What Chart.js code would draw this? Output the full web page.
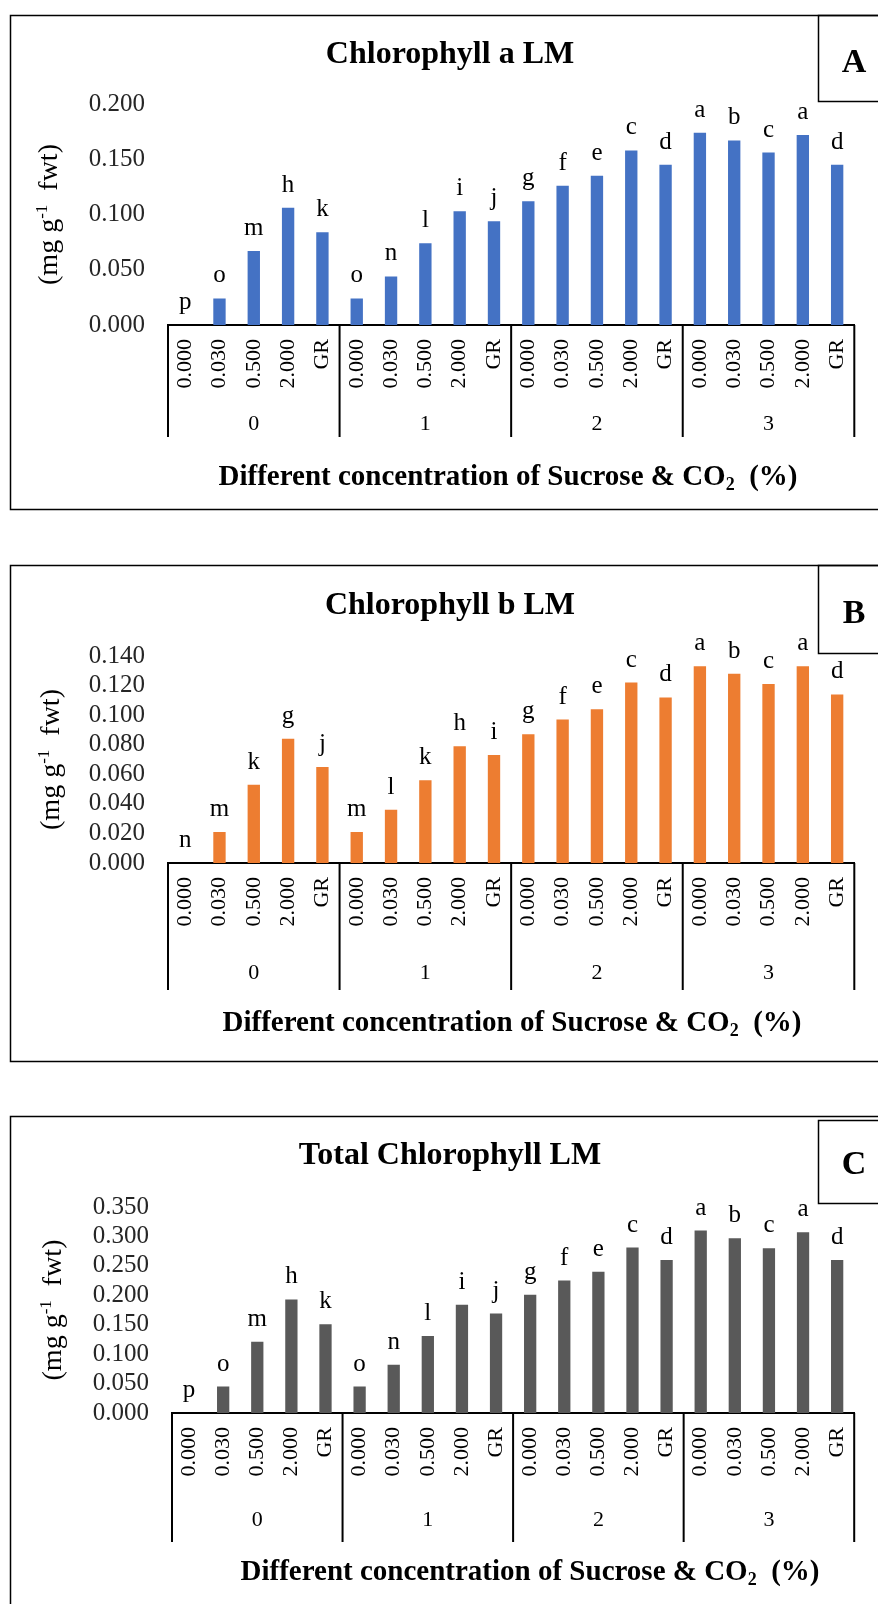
<!DOCTYPE html>
<html>
<head>
<meta charset="utf-8">
<title>Chlorophyll LM</title>
<script src="https://cdn.jsdelivr.net/npm/chart.js@4.4.0/dist/chart.umd.min.js"></script>
<style>
  html, body { margin: 0; padding: 0; background: #fff; }
  body { width: 878px; height: 1604px; position: relative; overflow: hidden; }
  .panel { position: absolute; left: 0; width: 878px; }
</style>
</head>
<body>
<div class="panel" style="top:10px;height:504px"><canvas id="chartA" width="878" height="504"></canvas></div>
<div class="panel" style="top:560px;height:506px"><canvas id="chartB" width="878" height="506"></canvas></div>
<div class="panel" style="top:1111px;height:493px"><canvas id="chartC" width="878" height="493"></canvas></div>
<script>
const sucrose = ['0.000', '0.030', '0.500', '2.000', 'GR'];
const co2Groups = ['0', '1', '2', '3'];

const chlA = [0.000, 0.024, 0.067, 0.106, 0.084, 0.024, 0.044, 0.074, 0.103, 0.094,
              0.112, 0.126, 0.135, 0.158, 0.145, 0.174, 0.167, 0.156, 0.172, 0.145];
const chlALetters = ['p', 'o', 'm', 'h', 'k', 'o', 'n', 'l', 'i', 'j',
                     'g', 'f', 'e', 'c', 'd', 'a', 'b', 'c', 'a', 'd'];

const chlB = [0.000, 0.021, 0.053, 0.084, 0.065, 0.021, 0.036, 0.056, 0.079, 0.073,
              0.087, 0.097, 0.104, 0.122, 0.112, 0.133, 0.128, 0.121, 0.133, 0.114];
const chlBLetters = ['n', 'm', 'k', 'g', 'j', 'm', 'l', 'k', 'h', 'i',
                     'g', 'f', 'e', 'c', 'd', 'a', 'b', 'c', 'a', 'd'];

const chlTotal = [0.000, 0.045, 0.121, 0.193, 0.151, 0.045, 0.082, 0.131, 0.184, 0.169,
                  0.201, 0.225, 0.240, 0.281, 0.260, 0.310, 0.297, 0.280, 0.307, 0.260];
const chlTotalLetters = ['p', 'o', 'm', 'h', 'k', 'o', 'n', 'l', 'i', 'j',
                         'g', 'f', 'e', 'c', 'd', 'a', 'b', 'c', 'a', 'd'];

const ticksA = [0, 0.05, 0.10, 0.15, 0.20];
const ticksB = [0, 0.02, 0.04, 0.06, 0.08, 0.10, 0.12, 0.14];
const ticksC = [0, 0.05, 0.10, 0.15, 0.20, 0.25, 0.30, 0.35];

const SERIF = "'Liberation Serif', 'Times New Roman', serif";
const categoryLabels = co2Groups.flatMap(() => sucrose);

// draws a line of text made of runs, some of them super/subscript
function drawRuns(ctx, runs, cx, cy, size, bold) {
  const weight = bold ? 'bold ' : '';
  const fontFor = r => weight + (r.sup || r.sub ? Math.round(size * 0.62) : size) + 'px ' + SERIF;
  let total = 0;
  runs.forEach(r => {
    ctx.font = fontFor(r);
    r.w = ctx.measureText(r.t).width;
    total += r.w;
  });
  let x = cx - total / 2;
  ctx.textAlign = 'left';
  ctx.textBaseline = 'alphabetic';
  runs.forEach(r => {
    ctx.font = fontFor(r);
    let y = cy + size * 0.33;
    if (r.sup) y -= size * 0.36;
    if (r.sub) y += size * 0.2;
    ctx.fillText(r.t, x, y);
    x += r.w;
  });
}

const decor = {
  id: 'decor',
  afterDraw(chart, args, o) {
    const {ctx, chartArea} = chart;
    const xs = chart.scales.x;
    const ys = chart.scales.y;
    ctx.save();
    ctx.strokeStyle = '#000';
    ctx.fillStyle = '#000';

    // panel frame and letter box
    ctx.lineWidth = 1.5;
    ctx.strokeRect(10.5, 5.5, 900, o.boxBottom - 5);
    ctx.strokeRect(818.5, o.tagTop + 0.5, 80, o.tagBottom - o.tagTop);
    ctx.font = 'bold 34px ' + SERIF;
    ctx.textAlign = 'center';
    ctx.textBaseline = 'middle';
    ctx.fillText(o.tag, 854, o.tagY);

    // title
    ctx.font = 'bold 32px ' + SERIF;
    ctx.fillText(o.title, 450, o.titleY);

    // group separators and group labels
    const half = (xs.getPixelForValue(1) - xs.getPixelForValue(0)) / 2;
    ctx.lineWidth = 2;
    ctx.beginPath();
    for (let g = 0; g <= co2Groups.length; g++) {
      const idx = Math.min(g * sucrose.length, categoryLabels.length - 1);
      const x = g < co2Groups.length ? xs.getPixelForValue(idx) - half : xs.getPixelForValue(idx) + half;
      ctx.moveTo(x, chartArea.bottom);
      ctx.lineTo(x, o.groupBottom);
    }
    ctx.stroke();
    ctx.font = '22px ' + SERIF;
    co2Groups.forEach((g, i) => {
      const a = xs.getPixelForValue(i * sucrose.length);
      const b = xs.getPixelForValue(i * sucrose.length + sucrose.length - 1);
      ctx.fillText(g, (a + b) / 2, o.groupLabelY);
    });

    // significance letters
    ctx.font = '25px ' + SERIF;
    ctx.textBaseline = 'alphabetic';
    o.letters.forEach((t, i) => {
      const v = chart.data.datasets[0].data[i];
      ctx.fillText(t, xs.getPixelForValue(i), ys.getPixelForValue(v) - 16);
    });

    // axis titles
    drawRuns(ctx, [
      {t: 'Different concentration of Sucrose & CO'},
      {t: '2', sub: true},
      {t: '  (%)'}
    ], o.xTitleX, o.xTitleY, 29, true);

    ctx.save();
    ctx.translate(o.yTitleX, (chartArea.top + chartArea.bottom) / 2);
    ctx.rotate(-Math.PI / 2);
    drawRuns(ctx, [
      {t: '(mg g'},
      {t: '-1', sup: true},
      {t: '  fwt)'}
    ], 0, 0, 28, false);
    ctx.restore();

    ctx.restore();
  }
};

function buildPanel(id, p) {
  return new Chart(document.getElementById(id), {
    type: 'bar',
    data: {
      labels: categoryLabels,
      datasets: [{
        data: p.values,
        backgroundColor: p.color,
        barPercentage: 0.36,
        categoryPercentage: 1
      }]
    },
    options: {
      responsive: false,
      animation: false,
      layout: { padding: { left: 10, right: 18, top: p.chartTop, bottom: 0 } },
      plugins: {
        legend: { display: false },
        tooltip: { enabled: false },
        title: { display: false },
        decor: p.decor
      },
      scales: {
        x: {
          grid: { display: false, drawTicks: false },
          border: { display: true, color: '#000', width: 2 },
          ticks: {
            autoSkip: false,
            minRotation: 90,
            maxRotation: 90,
            padding: 14,
            color: '#000',
            font: { family: SERIF, size: 22 }
          },
          afterFit: s => { s.height = p.xHeight; }
        },
        y: {
          min: 0,
          max: p.ticks[p.ticks.length - 1],
          grid: { display: false, drawTicks: false },
          border: { display: false },
          afterBuildTicks: s => { s.ticks = p.ticks.map(v => ({ value: v })); },
          ticks: {
            autoSkip: false,
            padding: 23,
            color: '#262626',
            font: { family: SERIF, size: 25 },
            callback: v => Number(v).toFixed(3)
          },
          afterFit: s => { s.width = p.yWidth; }
        }
      }
    },
    plugins: [decor]
  });
}

buildPanel('chartA', {
  values: chlA, ticks: ticksA, color: '#4472C4',
  chartTop: 94, xHeight: 504 - 315, yWidth: 158,
  decor: {
    title: 'Chlorophyll a LM', titleY: 45, tag: 'A', tagTop: 5, tagBottom: 91, tagY: 53,
    letters: chlALetters, groupBottom: 427, groupLabelY: 414,
    xTitleX: 508, xTitleY: 465, yTitleX: 48, boxBottom: 499
  }
});

buildPanel('chartB', {
  values: chlB, ticks: ticksB, color: '#ED7D31',
  chartTop: 96, xHeight: 506 - 303, yWidth: 158,
  decor: {
    title: 'Chlorophyll b LM', titleY: 46, tag: 'B', tagTop: 5, tagBottom: 93, tagY: 54,
    letters: chlBLetters, groupBottom: 430, groupLabelY: 413,
    xTitleX: 512, xTitleY: 461, yTitleX: 50, boxBottom: 501
  }
});

buildPanel('chartC', {
  values: chlTotal, ticks: ticksC, color: '#595959',
  chartTop: 96, xHeight: 493 - 302, yWidth: 162,
  decor: {
    title: 'Total Chlorophyll LM', titleY: 45, tag: 'C', tagTop: 9, tagBottom: 92, tagY: 54,
    letters: chlTotalLetters, groupBottom: 431, groupLabelY: 409,
    xTitleX: 530, xTitleY: 459, yTitleX: 52, boxBottom: 600
  }
});
</script>
</body>
</html>
